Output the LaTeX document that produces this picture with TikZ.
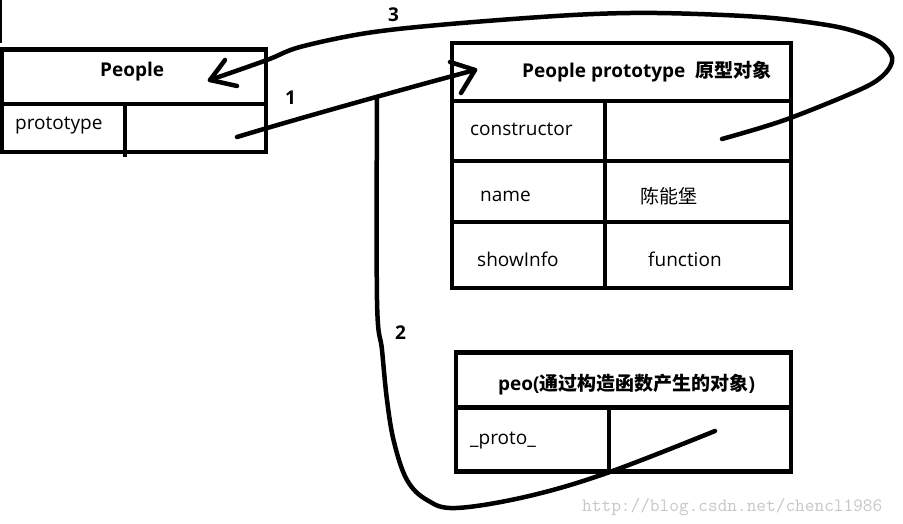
\documentclass[tikz,border=0pt]{standalone}
\usepackage{fontspec}
\setmainfont{Open Sans}
\newfontfamily\cjk{Noto Sans CJK SC}
\begin{document}
\begin{tikzpicture}[x=1pt,y=-1pt,
  boxline/.style={line width=4.5pt, line cap=rect, line join=miter},
  curve/.style={line width=4.5pt, line cap=round, line join=round},
  lbl/.style={font=\fontsize{19}{22}\selectfont, inner sep=0pt, anchor=base west},
  blbl/.style={lbl, font=\fontsize{19}{22}\selectfont\bfseries},
  wmark/.style={font=\ttfamily\fontsize{18.8}{20}\selectfont, text=black!22, inner sep=0pt, anchor=base west}]
\path[use as bounding box] (0,0) rectangle (903,524);
\fill[white] (0,0) rectangle (903,524);
% stray mark top left
\draw[line width=2pt] (1,0) -- (1,43);
% People box
\draw[boxline] (2,49.5) rectangle (266,152);
\draw[boxline] (2,104) -- (266,104);
\draw[boxline, line cap=butt] (125,104) -- (125,157);
\node[blbl] (peopleT) at (100,77) {People};
\node[lbl] (protoK) at (15,130) {prototype};
% People prototype box
\draw[boxline] (452,43) rectangle (791,288);
\draw[boxline] (452,101) -- (791,101);
\draw[boxline] (452,161) -- (791,161);
\draw[boxline] (452,222) -- (791,222);
\draw[boxline] (605,101) -- (605,288);
\node[blbl] (ppT) at (522,78) {People prototype\hspace{10pt}{\cjk\bfseries 原型对象}};
\node[lbl] (consK) at (470,136) {constructor};
\node[lbl] (nameK) at (480,201.5) {name};
\node[lbl] (nameV) at (640,203.5) {\cjk 陈能堡};
\node[lbl] (showK) at (477,266.5) {showInfo};
\node[lbl] (showV) at (648,266.5) {function};
% peo box
\draw[boxline] (456,352.5) rectangle (791,471.5);
\draw[boxline] (456,407.5) -- (791,407.5);
\draw[boxline] (609,407.5) -- (609,471.5);
\node[blbl] (peoT) at (498,390) {peo({\cjk\bfseries 通过构造函数产生的对象})};
\node[lbl] (peoK) at (470,444) {\_proto\_};
% numbers
\node[blbl] (n1) at (285,105) {1};
\node[blbl] (n2) at (395,339) {2};
\node[blbl] (n3) at (388,22) {3};
% connector coordinates
\coordinate (s1) at (237,137);
\coordinate (t1) at (475,70);
\coordinate (j) at (377,97);
\coordinate (s2) at (715,431);
\coordinate (s3) at (722,139);
\coordinate (t3) at (210,80);
% connector 1
\draw[curve] (s1) .. controls (300,118) and (400,90) .. (t1);
\draw[curve] (450,62) -- (t1) -- (461,93);
% connector 2
\draw[curve] plot[smooth, tension=0.6] coordinates {(j) (377,300) (382,350) (387,400) (394,442) (407,480) (427,500) (456,508) (527,496.5) (607,473) (s2)};
% connector 3
\draw[curve] plot[smooth, tension=0.55] coordinates {(s3) (760,128) (793,117) (843,97) (873,83) (888,70) (892,57) (881,43) (860,33) (827,25) (760,17) (657,13) (573,15) (450,24) (367,33) (300,47) (267,60) (t3)};
\draw[curve] (225,60) -- (t3) -- (237,86);
% watermark
\node[wmark] (wm) at (582,511) {http://blog.csdn.net/chencl1986};
\end{tikzpicture}
\end{document}
